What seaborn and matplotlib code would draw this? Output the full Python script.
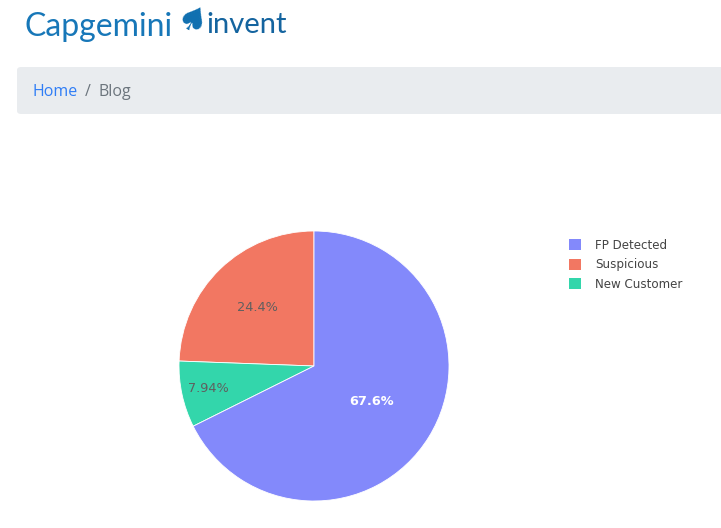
import numpy as np
import matplotlib
matplotlib.use("Agg")
import matplotlib.pyplot as plt
from matplotlib.patches import FancyBboxPatch, Patch
import seaborn as sns

# data
labels = ["FP Detected", "Suspicious", "New Customer"]
shares = [67.6, 24.4, 7.94]
colors = ["#8389fb", "#f27762", "#33d6ab"]
# drawing order (plotly style: counterclockwise from 12 o'clock)
draw_order = [1, 2, 0]
text_colors = ["white", "#5f5f5f", "#5f5f5f"]
text_dist = [0.5, 0.6, 0.8]

sns.set_theme(style="white")
plt.rcParams["font.family"] = ["DejaVu Sans"]

W, H = 721, 528
fig = plt.figure(figsize=(W / 100, H / 100), dpi=100)
fig.patch.set_facecolor("white")

# logo
fig.text(25 / W, 1 - 27 / H, "Capgemini", color="#1777b8", fontsize=23,
         family="Lato", va="center", ha="left")
fig.text(169 / W, 1 - 23 / H, "\u2660", color="#0f6fb0", fontsize=25,
         family="DejaVu Sans", va="center", ha="left", rotation=-30)
fig.text(206 / W, 1 - 25 / H, "invent", color="#14649f", fontsize=21,
         family="Lato", va="center", ha="left")

# breadcrumb bar
bar = FancyBboxPatch((17 / W, 1 - 114 / H), 720 / W, 47 / H,
                     boxstyle="round,pad=0,rounding_size=0.006",
                     transform=fig.transFigure, facecolor="#e9ecef",
                     edgecolor="none")
fig.patches.append(bar)
fig.text(33 / W, 1 - 92 / H, "Home", color="#2f7df6", fontsize=11.5,
         family="Open Sans", va="center", ha="left")
fig.text(85 / W, 1 - 92 / H, "/", color="#6c757d", fontsize=11.5,
         family="Open Sans", va="center", ha="left")
fig.text(98 / W, 1 - 92 / H, "Blog", color="#6c757d", fontsize=11.5,
         family="Open Sans", va="center", ha="left")

# pie
ax = fig.add_axes([(314 - 135) / W, (528 - 501) / H, 270 / W, 270 / H])
vals = [shares[i] for i in draw_order]
wedges, _, autotexts = ax.pie(
    vals, colors=[colors[i] for i in draw_order], startangle=90,
    counterclock=True, radius=1,
    autopct=lambda p: "{:.3g}%".format(p), pctdistance=0.6,
    wedgeprops=dict(linewidth=0.6, edgecolor="white"),
    textprops=dict(fontsize=9.3))
for k, i in enumerate(draw_order):
    t = autotexts[k]
    x, y = t.get_position()
    s = text_dist[i] / 0.6
    t.set_position((x * s, y * s))
    t.set_color(text_colors[i])
    if text_colors[i] == "white":
        t.set_fontweight("bold")
ax.set_xlim(-1, 1)
ax.set_ylim(-1, 1)
ax.set_aspect("equal")
ax.axis("off")

handles = [Patch(facecolor=c, edgecolor="none") for c in colors]
fig.legend(handles, labels, loc="upper left",
           bbox_to_anchor=(558 / W, 1 - 228 / H), frameon=False,
           fontsize=8.6, handlelength=1.0, handleheight=1.0,
           handletextpad=1.2, labelspacing=0.55, labelcolor="#444444")

fig.savefig("out.png", dpi=100)
